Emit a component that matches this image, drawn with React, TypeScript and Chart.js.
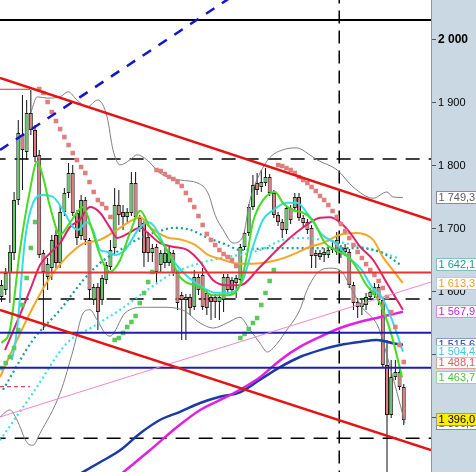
import React, { useEffect, useRef } from 'react';
import { Chart, registerables } from 'chart.js';

Chart.register(...registerables);

// ---- candle data (index 0..96) ----
const opens = [1591.3, 1602.4, 1629.4, 1661.1, 1745.2, 1848.4, 1821.4, 1883.3, 1856.4, 1816.7,
  1661.1, 1623.0, 1637.3, 1689.7, 1645.2, 1726.2, 1756.4, 1788.1, 1724.6, 1688.1,
  1745.2, 1681.8, 1586.5, 1607.2, 1586.5, 1618.3, 1638.9, 1669.1, 1737.3, 1726.2,
  1718.3, 1724.6, 1772.2, 1716.7, 1708.7, 1686.5, 1661.1, 1670.6, 1642.1, 1645.2,
  1645.2, 1661.1, 1629.4, 1594.4, 1586.5, 1591.3, 1575.4, 1623.0, 1626.2, 1597.6,
  1591.3, 1591.3, 1583.3, 1586.5, 1623.0, 1618.3, 1613.5, 1618.3, 1670.6, 1692.9,
  1734.1, 1772.2, 1765.9, 1772.2, 1781.8, 1756.4, 1721.4, 1710.3, 1697.6, 1732.5,
  1732.5, 1750.0, 1716.7, 1710.3, 1700.8, 1661.1, 1654.8, 1657.9, 1657.9, 1665.9,
  1681.8, 1662.7, 1669.1, 1662.7, 1610.3, 1583.3, 1575.4, 1578.6, 1591.3, 1594.4,
  1607.2, 1586.5, 1483.3, 1404.0, 1464.3, 1472.2, 1448.4];
const closes = [1610.3, 1629.4, 1662.7, 1745.2, 1851.6, 1824.6, 1883.3, 1856.4, 1813.5, 1657.9,
  1631.0, 1643.6, 1681.8, 1645.2, 1726.2, 1756.4, 1788.1, 1724.6, 1684.9, 1745.2,
  1681.8, 1602.4, 1607.2, 1567.4, 1621.4, 1642.1, 1665.9, 1737.3, 1721.4, 1718.3,
  1726.2, 1772.2, 1718.3, 1702.4, 1661.1, 1661.1, 1669.1, 1631.0, 1661.1, 1661.1,
  1662.7, 1629.4, 1581.7, 1586.5, 1591.3, 1573.8, 1623.0, 1602.4, 1575.4, 1573.8,
  1583.3, 1583.3, 1591.3, 1623.0, 1602.4, 1602.4, 1621.4, 1670.6, 1692.9, 1734.1,
  1769.1, 1761.1, 1773.8, 1781.8, 1756.4, 1721.4, 1710.3, 1697.6, 1732.5, 1713.5,
  1750.0, 1716.7, 1708.7, 1697.6, 1656.3, 1656.3, 1661.1, 1662.7, 1665.9, 1669.1,
  1662.7, 1669.1, 1662.7, 1610.3, 1581.7, 1575.4, 1581.7, 1591.3, 1599.2, 1607.2,
  1586.5, 1483.3, 1404.0, 1464.3, 1472.2, 1448.4, 1396.1];
const highs = [1618.3, 1637.3, 1673.8, 1758.0, 1872.2, 1911.9, 1904.0, 1919.8, 1864.3, 1824.6,
  1665.9, 1653.2, 1689.7, 1697.6, 1737.3, 1764.3, 1804.0, 1800.8, 1729.4, 1753.2,
  1750.0, 1684.9, 1611.9, 1613.5, 1626.2, 1646.8, 1681.8, 1764.3, 1761.1, 1737.3,
  1732.5, 1789.7, 1789.7, 1721.4, 1713.5, 1694.5, 1675.4, 1675.4, 1665.9, 1669.1,
  1673.8, 1665.9, 1634.1, 1599.2, 1596.0, 1596.0, 1634.1, 1627.8, 1637.3, 1602.4,
  1596.0, 1596.0, 1596.0, 1627.8, 1627.8, 1623.0, 1626.2, 1675.4, 1697.6, 1738.9,
  1784.9, 1788.1, 1792.9, 1796.0, 1786.5, 1761.1, 1726.2, 1715.1, 1737.3, 1737.3,
  1756.4, 1756.4, 1721.4, 1715.1, 1705.6, 1665.9, 1665.9, 1669.1, 1672.2, 1681.8,
  1694.5, 1673.8, 1675.4, 1667.5, 1615.1, 1589.7, 1586.5, 1597.6, 1605.6, 1613.5,
  1611.9, 1591.3, 1523.0, 1491.3, 1491.3, 1483.3, 1453.2];
const lows = [1583.3, 1594.4, 1581.7, 1650.0, 1737.3, 1761.1, 1808.7, 1848.4, 1805.6, 1653.2,
  1538.9, 1602.4, 1618.3, 1637.3, 1637.3, 1719.8, 1748.4, 1719.8, 1673.8, 1681.8,
  1673.8, 1586.5, 1578.6, 1538.9, 1578.6, 1611.9, 1634.1, 1657.9, 1705.6, 1697.6,
  1710.3, 1719.8, 1713.5, 1694.5, 1638.9, 1646.8, 1646.8, 1613.5, 1631.0, 1637.3,
  1640.5, 1624.6, 1570.6, 1523.0, 1523.0, 1562.7, 1570.6, 1594.4, 1570.6, 1562.7,
  1554.8, 1557.9, 1554.8, 1567.4, 1596.0, 1596.0, 1589.7, 1613.5, 1665.9, 1688.1,
  1729.4, 1753.2, 1758.0, 1767.5, 1751.6, 1716.7, 1704.0, 1684.9, 1691.3, 1707.1,
  1727.8, 1711.9, 1702.4, 1691.3, 1637.3, 1637.3, 1650.0, 1646.8, 1653.2, 1661.1,
  1657.9, 1653.2, 1656.3, 1605.6, 1570.6, 1557.9, 1562.7, 1570.6, 1586.5, 1589.7,
  1578.6, 1478.6, 1300.8, 1399.2, 1459.5, 1443.6, 1388.1];

// ---- parabolic SAR (one per candle) ----
const sar = [1478.6, 1486.5, 1496.1, 1510.3, 1538.9, 1578.6, 1621.4, 1669.1, 1710.3,
  1921.4, 1915.1, 1900.8, 1884.9, 1870.6, 1857.9, 1845.2, 1832.5, 1819.8, 1808.7, 1797.6, 1788.1, 1773.8, 1758.0, 1745.2, 1738.9, 1732.5, 1718.3,
  1523.0, 1526.2, 1534.1, 1543.7, 1551.6, 1561.1, 1581.7, 1597.6, 1615.1, 1631.0,
  1792.9, 1791.3, 1786.5, 1781.8, 1778.6, 1773.8, 1767.5, 1756.4, 1745.2, 1734.1, 1719.8, 1705.6, 1691.3, 1681.8, 1673.8, 1665.9, 1659.5, 1654.8, 1650.0, 1640.5,
  1526.2, 1532.6, 1540.5, 1550.0, 1557.9, 1578.6, 1597.6, 1616.7, 1634.1,
  1800.8, 1799.2, 1796.0, 1792.9, 1788.1, 1781.8, 1777.0, 1772.2, 1765.9, 1759.5, 1751.6, 1745.2, 1737.3, 1727.8, 1718.3, 1707.1, 1696.0, 1684.9, 1673.8, 1662.7, 1653.2, 1643.6, 1634.1, 1626.2, 1616.7, 1605.6, 1591.3, 1567.4, 1543.7, 1515.1, 1488.1];

// ---- indicator lines: [candle position, price] ----
const greenMA = [[0, 1518], [2.0, 1539], [4.4, 1666], [6.8, 1761], [8.5, 1806], [9.9, 1782], [11.6, 1734], [14.0, 1690], [16.3, 1709], [19.5, 1734], [21.1, 1709], [23.5, 1658], [25.9, 1631], [28.3, 1650], [30.7, 1694], [33.1, 1728], [35.4, 1702], [39.5, 1666], [42.6, 1623], [47.4, 1607], [50.5, 1594], [53.8, 1594], [56.9, 1610], [58.6, 1658], [60.0, 1710], [62.4, 1745], [65.3, 1758], [67.2, 1740], [69.6, 1729], [72.0, 1725], [74.3, 1713], [77.2, 1677], [79.6, 1666], [82.7, 1655], [85.1, 1634], [86.8, 1613], [89.1, 1594], [90.8, 1575], [93.2, 1528], [95.6, 1463.7]];
const cyanMA = [[2.5, 1491], [3.7, 1539], [5.6, 1682], [7.5, 1740], [9.9, 1753], [12.3, 1750], [14.7, 1729], [17.1, 1702], [18.3, 1698], [20.4, 1710], [21.8, 1698], [23.5, 1666], [25.2, 1663], [27.1, 1658], [29.5, 1666], [32.6, 1698], [35.0, 1710], [36.6, 1702], [39.0, 1671], [41.4, 1645], [44.5, 1623], [47.9, 1607], [51.0, 1598], [54.5, 1598], [57.6, 1618], [60.0, 1671], [62.4, 1714], [64.8, 1729], [68.1, 1741], [70.5, 1741], [72.9, 1725], [74.8, 1706], [76.5, 1690], [79.6, 1677], [82.7, 1655], [86.0, 1634], [88.4, 1607], [90.8, 1591], [93.2, 1555], [95.8, 1504.4]];
const crimsonMA = [[0.84, 1507], [4.4, 1563], [6.8, 1602], [9.2, 1642], [11.6, 1661], [14.0, 1677], [16.3, 1702], [18.7, 1714], [21.1, 1734], [23.5, 1725], [25.9, 1701], [27.6, 1685], [29.9, 1691], [33.1, 1701], [35.4, 1690], [37.8, 1677], [40.9, 1671], [44.3, 1666], [47.4, 1647], [50.5, 1618], [53.8, 1610], [56.9, 1610], [61.7, 1639], [66.5, 1671], [71.2, 1698], [76.0, 1717], [78.4, 1718], [80.8, 1710], [83.2, 1693], [85.6, 1671], [88.7, 1650], [92.0, 1613], [95.8, 1571]];
const orangeMA = [[-0.36, 1464], [3.7, 1523], [7.5, 1575], [11.6, 1623], [15.6, 1655], [19.5, 1676], [23.5, 1682], [27.6, 1698], [31.4, 1714], [33.1, 1718], [35.4, 1702], [39.5, 1686], [43.1, 1682], [46.2, 1674], [49.3, 1658], [52.1, 1652], [56.9, 1644], [61.7, 1645], [65.8, 1650], [69.6, 1659], [73.6, 1671], [76.7, 1677], [80.8, 1690], [84.8, 1693], [88.7, 1682], [91.0, 1655], [93.4, 1634], [95.8, 1613.3]];
const tealDotted = [[0.36, 1444], [7.5, 1523], [14.0, 1571], [19.5, 1618], [23.5, 1645], [28.3, 1666], [33.1, 1685], [37.8, 1696], [40.9, 1701], [45.0, 1698], [49.0, 1686], [53.8, 1674], [56.9, 1666], [64.8, 1669], [71.2, 1669], [76.7, 1669], [83.2, 1669], [90.3, 1663], [95.3, 1642.1]];
const cyanDotted = [[-0.36, 1364], [7.5, 1439], [15.6, 1518], [21.8, 1544], [28.3, 1571], [34.7, 1602], [40.9, 1629], [47.4, 1645], [53.8, 1655], [56.9, 1658], [61.7, 1666], [67.2, 1682], [71.2, 1685], [76.7, 1682], [83.2, 1675], [90.3, 1663], [94.6, 1653]];
const bbUpper = [[7.04, 1885], [8.5, 1909], [10.9, 1907], [14.0, 1909], [15.9, 1917], [18.0, 1904], [20.4, 1893], [23.0, 1904], [25.2, 1877], [26.6, 1825], [28.3, 1801], [30.7, 1809], [32.3, 1817], [34.7, 1809], [37.8, 1788], [42.6, 1777], [46.9, 1772], [49.3, 1756], [51.0, 1721], [52.9, 1698], [55.3, 1677], [57.6, 1687], [59.3, 1745], [61.7, 1788], [64.1, 1813], [67.2, 1825], [70.5, 1828], [72.9, 1820], [75.3, 1809], [80.1, 1793], [83.9, 1766], [88.7, 1748], [92.0, 1758], [93.4, 1750], [95.8, 1749.3]];
const bbLower = [[-0.36, 1401], [2.0, 1412], [3.7, 1396], [6.1, 1360], [7.5, 1356], [9.2, 1375], [14.0, 1439], [17.1, 1507], [19.5, 1566], [21.1, 1571], [22.8, 1555], [24.7, 1534], [25.9, 1529], [29.5, 1566], [34.2, 1575], [38.3, 1575], [43.1, 1571], [47.4, 1550], [50.5, 1542], [53.8, 1550], [56.9, 1559], [59.3, 1539], [61.7, 1518], [63.4, 1504], [64.8, 1510], [68.1, 1539], [71.2, 1571], [72.9, 1602], [75.3, 1629], [78.4, 1637], [80.8, 1634], [83.7, 1602], [86.0, 1575], [88.4, 1559], [89.9, 1544], [92.3, 1491], [96.3, 1391]];
const magentaMA = [[28.3, 1309], [35.4, 1348], [41.9, 1385], [47.4, 1412], [53.8, 1433], [56.9, 1444], [61.7, 1464], [66.5, 1491], [71.2, 1512], [76.0, 1528], [80.8, 1542], [85.6, 1552], [90.3, 1559], [95.8, 1567.9]];
const navyMA = [[18.3, 1309], [23.5, 1329], [28.3, 1348], [33.1, 1375], [37.8, 1396], [42.6, 1409], [47.4, 1423], [52.1, 1433], [56.9, 1440], [61.7, 1460], [66.5, 1480], [71.2, 1496], [76.0, 1507], [80.8, 1515], [85.6, 1520], [89.6, 1523], [93.4, 1518], [95.8, 1515.6]];

// ---- drawn trend lines: [x0, p0], [x1, p1] ----
const upperRedTrend = [[-0.36, 1938.9], [102.5, 1713.5]];
const lowerRedTrend = [[-0.36, 1570.6], [102.5, 1348.4]];
const blueDashedTrend = [[-0.36, 1824.6], [56.9, 2076.4]];
const pinkTrend = [[-0.36, 1400.8], [102.5, 1615.1]];
const shortRedLine = [[-0.36, 1921], [6.8, 1921]];
const shortRedDashed = [[-0.36, 1448.9], [6.8, 1448.9]];

// ---- horizontal / vertical levels ----
const blackSolidLevel = 2031;
const blackDashedLevels = [1810.5, 1588.1, 1367.0];
const redLevel = 1630;
const blueLevels = [1534.6, 1479.0];
const verticalDashedAt = 80.6;

// ---- axis ----
const yMin = 1313.5;
const yMax = 2062.7;
const xMin = -0.36;
const xMax = 102.5;
const tickValues = [1400, 1500, 1600, 1700, 1800, 1900, 2000];

// ---- right-side value tags ----
const tagValues = [1749.3, 1642.1, 1613.3, 1567.9, 1515.6, 1488.1, 1504.4, 1463.7, 1390.5, 1396.07];
const tagTexts = ['1 749,3', '1 642,1', '1 613,3', '1 567,9', '1 515,6', '1 488,1', '1 504,4', '1 463,7', '1 390,5', '1 396,07'];
const tagTextColors = ['#5a5a5a', '#1a9a94', '#f0a028', '#cc22cc', '#1a3aa8', '#e05a5a', '#35cde0', '#4cc040', '#5a5a5a', '#000000'];
const tagBorderColors = ['#8c8c8c', '#7fbfbf', '#c8c8c8', '#d890d8', '#8c9cc8', '#e0a0a0', '#9cd8e4', '#9cd49c', '#8c8c8c', '#9a9a9a'];
const tagFills = ['#ffffff', '#ffffff', '#ffffff', '#ffffff', '#ffffff', '#ffffff', '#ffffff', '#ffffff', '#ffffff', '#ffee00'];

const FONT = "'Liberation Sans', Arial, sans-serif";
const PANEL = '#c9d8e2';

const fmt = (v: number) => String(v).replace(/\B(?=(\d{3})+(?!\d))/g, ' ');

const pts = (arr: number[][]) => arr.map(([x, y]) => ({ x, y }));

const lineDs = (arr: number[][], color: string, width: number, order: number, extra: any = {}) => ({
  type: 'line',
  data: pts(arr),
  borderColor: color,
  borderWidth: width,
  pointRadius: 0,
  fill: false,
  cubicInterpolationMode: 'monotone',
  clip: 0,
  order,
  ...extra,
});

const straight = { tension: 0, cubicInterpolationMode: 'default' };

const hLine = (v: number, color: string, width: number, order: number, dash: number[] = []) =>
  lineDs([[xMin - 2, v], [xMax + 2, v]], color, width, order, { borderDash: dash, ...straight });

const panelPlugin = {
  id: 'panelPlugin',
  beforeDraw(chart: any) {
    const { ctx, chartArea, width, height } = chart;
    ctx.save();
    ctx.fillStyle = '#ffffff';
    ctx.fillRect(0, 0, width, height);
    ctx.fillStyle = PANEL;
    ctx.fillRect(chartArea.right, 0, width - chartArea.right, height);
    ctx.restore();
  },
  afterDraw(chart: any) {
    const { ctx, chartArea } = chart;
    const ys = chart.scales.y;
    ctx.save();
    ctx.font = `11px ${FONT}`;
    ctx.textBaseline = 'middle';
    ctx.textAlign = 'left';
    const x0 = chartArea.right + 5.5;
    tagValues.forEach((v, i) => {
      const yc = ys.getPixelForValue(v);
      const top = Math.round(yc - 6.5) + 0.5;
      ctx.fillStyle = tagFills[i];
      ctx.fillRect(x0, top, 60, 12);
      ctx.strokeStyle = tagBorderColors[i];
      ctx.lineWidth = 1;
      ctx.strokeRect(x0, top, 60, 12);
      ctx.fillStyle = tagTextColors[i];
      ctx.fillText(tagTexts[i], x0 + 2, top + 6.5);
    });
    ctx.restore();
  },
};

export default function App() {
  const ref = useRef<HTMLCanvasElement>(null);

  useEffect(() => {
    const canvas = ref.current;
    if (!canvas) return;
    const idx = opens.map((_, i) => i);
    const bodyColors = idx.map((i) => (closes[i] >= opens[i] ? '#66c866' : '#e07c7c'));
    const sarColors = idx.map((i) => (sar[i] < closes[i] ? '#5cc85c' : '#e07e7e'));

    const datasets: any[] = [
      // trend lines (top)
      lineDs(upperRedTrend, '#e41414', 2.5, 0, straight),
      lineDs(lowerRedTrend, '#e41414', 2.5, 0, straight),
      lineDs(blueDashedTrend, '#1414cc', 2.5, 0, { ...straight, borderDash: [10, 9] }),
      lineDs(pinkTrend, '#f088c8', 1, 0, straight),
      lineDs(shortRedLine, '#e03030', 1, 0, straight),
      lineDs(shortRedDashed, '#d02020', 1, 0, { ...straight, borderDash: [4, 3] }),
      hLine(blackSolidLevel, '#000000', 2, 0),
      hLine(redLevel, '#e43434', 2, 0),
      ...blueLevels.map((v) => hLine(v, '#1c1cb4', 2, 0)),
      // SAR
      {
        type: 'line',
        data: sar.map((v, i) => ({ x: i, y: v })),
        showLine: false,
        pointStyle: 'rect',
        pointRadius: 3.2,
        pointBackgroundColor: sarColors,
        pointBorderWidth: 0,
        clip: 0,
        order: 1,
      },
      // moving averages
      lineDs(greenMA, '#44dd22', 2, 2),
      lineDs(cyanMA, '#33dde8', 2, 2),
      lineDs(crimsonMA, '#e0206a', 2, 3),
      lineDs(orangeMA, '#f5a623', 2, 3),
      lineDs(tealDotted, '#1c9c94', 2.2, 3, { borderDash: [2, 3] }),
      lineDs(cyanDotted, '#40e0e0', 2.2, 3, { borderDash: [2, 3] }),
      lineDs(magentaMA, '#e020e0', 2.5, 3),
      lineDs(navyMA, '#1a3aa8', 2.5, 3),
      lineDs(bbUpper, '#808080', 1, 4),
      lineDs(bbLower, '#808080', 1, 4),
      // candles
      {
        type: 'bar',
        data: idx.map((i) => ({ x: i, y: [Math.min(opens[i], closes[i]), Math.max(opens[i], closes[i])] })),
        backgroundColor: bodyColors,
        borderColor: '#1e1e1e',
        borderWidth: 1,
        borderSkipped: false,
        barThickness: 4,
        grouped: false,
        inflateAmount: 0,
        clip: 0,
        order: 5,
      },
      {
        type: 'bar',
        data: idx.map((i) => ({ x: i, y: [lows[i], highs[i]] })),
        backgroundColor: '#111111',
        borderWidth: 0,
        barThickness: 1,
        grouped: false,
        inflateAmount: 0,
        clip: 0,
        order: 6,
      },
      // dashed guides (bottom)
      ...blackDashedLevels.map((v) => hLine(v, '#000000', 1.5, 7, [14, 9])),
      lineDs([[verticalDashedAt, yMin - 50], [verticalDashedAt, yMax + 50]], '#000000', 1.5, 7, {
        borderDash: [13, 7],
        ...straight,
      }),
    ];

    const chart = new Chart(canvas, {
      type: 'line',
      data: { datasets },
      options: {
        animation: false,
        responsive: false,
        maintainAspectRatio: false,
        devicePixelRatio: 1,
        events: [],
        layout: { padding: 0, autoPadding: false },
        plugins: { legend: { display: false }, tooltip: { enabled: false }, title: { display: false } },
        scales: {
          x: {
            type: 'linear',
            display: false,
            min: xMin,
            max: xMax,
            offset: false,
            bounds: 'data',
          },
          y: {
            type: 'linear',
            position: 'right',
            min: yMin,
            max: yMax,
            bounds: 'data',
            afterFit: (s: any) => {
              s.width = 45;
              s.paddingTop = 0;
              s.paddingBottom = 0;
            },
            afterBuildTicks: (s: any) => {
              s.ticks = tickValues.map((v) => ({ value: v }));
            },
            grid: { drawOnChartArea: false, tickLength: 5, color: '#555555' },
            border: { display: true, color: '#8a98a4', width: 1 },
            ticks: {
              padding: 2,
              color: '#000000',
              callback: (v: any) => fmt(Number(v)),
              font: (c: any) => ({
                family: FONT,
                size: c.tick && c.tick.value === 2000 ? 12 : 11,
                weight: c.tick && c.tick.value === 2000 ? 'bold' : 'normal',
              }),
            },
          },
        },
      } as any,
      plugins: [panelPlugin],
    } as any);

    return () => chart.destroy();
  }, []);

  return (
    <div style={{ position: 'absolute', left: 0, top: 0, width: 476, height: 472 }}>
      <canvas ref={ref} width={476} height={472} style={{ display: 'block', width: 476, height: 472 }} />
    </div>
  );
}
